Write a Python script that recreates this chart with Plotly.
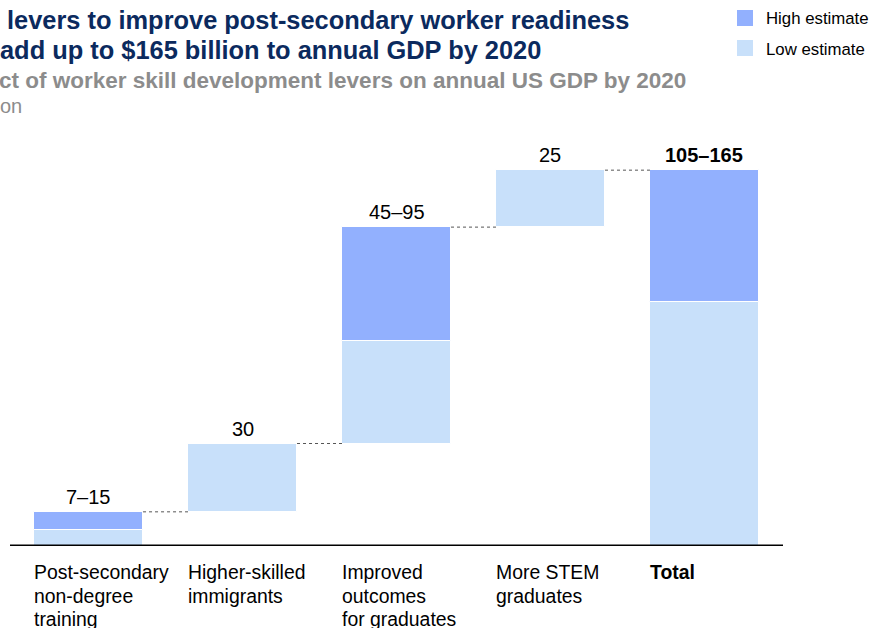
import plotly.graph_objs as go

# data ($ billion)
categories = ['Post-secondary<br>non-degree<br>training', 'Higher-skilled<br>immigrants',
              'Improved<br>outcomes<br>for graduates', 'More STEM<br>graduates', '<b>Total</b>']
low_est = [7, 30, 45, 25]
high_est = [15, 30, 95, 25]
value_labels = ['7–15', '30', '45–95', '25', '<b>105–165</b>']

W, H = 869, 628
L, R, T, B = 10, 86, 136, 82
bar_w = 0.708
c_high = '#92b0fe'
c_low = '#c8e0fa'
font = 'Arial, Liberation Sans, sans-serif'


def px_x(p):
    return (p - L) / (W - L - R)


def px_y(p):
    return (H - B - p) / (H - T - B)


# waterfall bases
base = []
s = 0
for h in high_est:
    base.append(s)
    s = s + h
tot_low = sum(low_est)
tot_high = sum(high_est)

xs = list(range(len(categories)))
low_base = base + [0]
low_y = low_est + [tot_low]
high_base = [b + l for b, l in zip(base, low_est)] + [tot_low]
high_y = [h - l for h, l in zip(high_est, low_est)] + [tot_high - tot_low]
tops = [b + h for b, h in zip(base, high_est)] + [tot_high]

trace_low = go.Bar(x=xs, y=low_y, base=low_base, width=bar_w, name='Low estimate',
                   marker=dict(color=c_low, line=dict(color='white', width=1)))
trace_high = go.Bar(x=xs, y=high_y, base=high_base, width=bar_w, name='High estimate',
                    marker=dict(color=c_high, line=dict(color='white', width=1)))

shapes = []
ann = []
# connectors
for i in range(len(xs) - 1):
    shapes.append(dict(type='line', xref='x', yref='y', x0=i + bar_w / 2, x1=i + 1 - bar_w / 2,
                       y0=tops[i], y1=tops[i], line=dict(color='#555555', width=1, dash='dot')))
# baseline
shapes.append(dict(type='line', xref='paper', yref='y', x0=0, x1=1, y0=0, y1=0,
                   line=dict(color='black', width=3)))

# value labels and category labels (one annotation per line, tighter line spacing)
for i in xs:
    ann.append(dict(x=i, y=tops[i], xref='x', yref='y', text=value_labels[i], showarrow=False,
                    yanchor='bottom', yshift=2, font=dict(family=font, size=20, color='black')))
    lines = categories[i].split('<br>')
    if lines[0].startswith('<b>'):
        lines = [categories[i]]
    for k, line in enumerate(lines):
        ann.append(dict(x=i - bar_w / 2, y=px_y(572 + 23.5 * k), xref='x', yref='paper', text=line,
                        showarrow=False, xanchor='left', yanchor='middle', align='left', xshift=-2,
                        font=dict(family=font, size=19.4, color='black')))

# titles (cropped at the left like the reference)
ann.append(dict(x=px_x(5), y=px_y(20), xref='paper', yref='paper', showarrow=False,
                xanchor='left', yanchor='middle',
                text='<b>levers to improve post-secondary worker readiness</b>',
                font=dict(family=font, size=25.4, color='#0b2a5e')))
ann.append(dict(x=px_x(-2), y=px_y(50), xref='paper', yref='paper', showarrow=False,
                xanchor='left', yanchor='middle',
                text='<b>add up to $165 billion to annual GDP by 2020</b>',
                font=dict(family=font, size=25.4, color='#0b2a5e')))
ann.append(dict(x=px_x(-3), y=px_y(80), xref='paper', yref='paper', showarrow=False,
                xanchor='left', yanchor='middle',
                text='<b>ct of worker skill development levers on annual US GDP by 2020</b>',
                font=dict(family=font, size=22.5, color='#8c8c8c')))
ann.append(dict(x=px_x(-2), y=px_y(106), xref='paper', yref='paper', showarrow=False,
                xanchor='left', yanchor='middle',
                text='on', font=dict(family=font, size=20, color='#8c8c8c')))

# legend drawn by hand
for name, col, yc in [('High estimate', c_high, 18), ('Low estimate', c_low, 48)]:
    shapes.append(dict(type='rect', xref='paper', yref='paper', x0=px_x(737), x1=px_x(753),
                       y0=px_y(yc - 8), y1=px_y(yc + 8), fillcolor=col, line=dict(width=0)))
    ann.append(dict(x=px_x(764), y=px_y(yc + 1), xref='paper', yref='paper', showarrow=False,
                    xanchor='left', yanchor='middle', text=name,
                    font=dict(family=font, size=16.8, color='black')))

layout = go.Layout(width=W, height=H, margin=dict(l=L, r=R, t=T, b=B),
                   paper_bgcolor='white', plot_bgcolor='white', showlegend=False,
                   barmode='overlay', bargap=0,
                   xaxis=dict(range=[-0.51, 4.51], visible=False),
                   yaxis=dict(range=[0, 180], visible=False),
                   shapes=shapes, annotations=ann)

fig = go.Figure(data=[trace_low, trace_high], layout=layout)
fig.write_html('out.html', config={'displayModeBar': False},
               post_script='document.body.style.margin="0";')
